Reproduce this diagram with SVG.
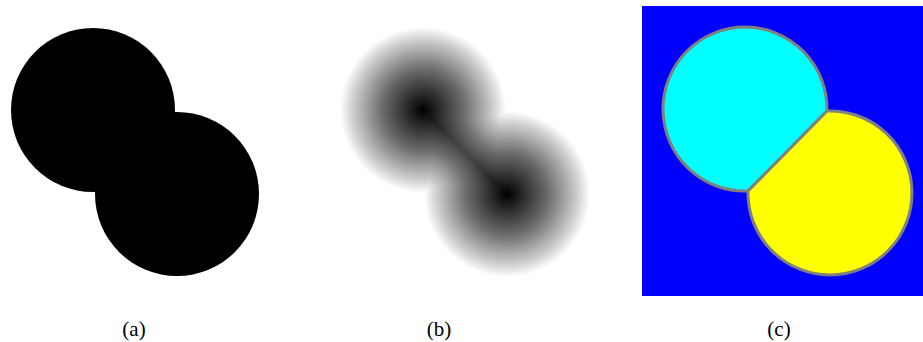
<svg xmlns="http://www.w3.org/2000/svg" width="923" height="342" viewBox="0 0 923 342">
<style>
.lbl{font-family:"Liberation Serif","Times New Roman",serif;font-size:21px;fill:#000;text-anchor:middle}
.seg{stroke:#808080;stroke-width:3;stroke-linejoin:miter}
</style>
<defs>
<radialGradient id="dt">
<stop offset="0" stop-color="#000"/>
<stop offset="0.5" stop-color="#6e6e6e"/>
<stop offset="0.85" stop-color="#cfcfcf"/>
<stop offset="1" stop-color="#fff"/>
</radialGradient>
<radialGradient id="cuspA" gradientUnits="userSpaceOnUse" cx="505" cy="112" r="82">
<stop offset="0" stop-color="#fff"/>
<stop offset="0.15" stop-color="#cfcfcf"/>
<stop offset="0.5" stop-color="#6e6e6e"/>
<stop offset="1" stop-color="#000"/>
</radialGradient>
<radialGradient id="cuspB" gradientUnits="userSpaceOnUse" cx="425" cy="192" r="82">
<stop offset="0" stop-color="#fff"/>
<stop offset="0.15" stop-color="#cfcfcf"/>
<stop offset="0.5" stop-color="#6e6e6e"/>
<stop offset="1" stop-color="#000"/>
</radialGradient>
<clipPath id="kite"><polygon points="423,110 505,112 507,194 425,192"/></clipPath>
</defs>
<rect width="923" height="342" fill="#fff"/>
<g id="panel-a">
<circle cx="93" cy="110" r="82" fill="#000"/>
<circle cx="177" cy="194" r="82" fill="#000"/>
</g>
<g id="panel-b" style="isolation:isolate">
<circle cx="423" cy="110" r="83" fill="url(#dt)"/>
<circle cx="507" cy="194" r="83" fill="url(#dt)" style="mix-blend-mode:darken"/>
<g clip-path="url(#kite)" style="mix-blend-mode:darken">
<g style="isolation:isolate">
<rect x="420" y="108" width="90" height="88" fill="url(#cuspA)"/>
<rect x="420" y="108" width="90" height="88" fill="url(#cuspB)" style="mix-blend-mode:lighten"/>
</g>
</g>
</g>
<g id="panel-c">
<rect x="642" y="6" width="281" height="290" fill="#0000ff"/>
<path class="seg" d="M827 111 A82 82 0 1 0 748 191 Z" fill="#00ffff"/>
<path class="seg" d="M827 111 A82 82 0 1 1 748 191 Z" fill="#ffff00"/>
</g>
<g id="labels">
<text class="lbl" x="134" y="336">(a)</text>
<text class="lbl" x="439" y="336">(b)</text>
<text class="lbl" x="779" y="336">(c)</text>
</g>
</svg>
